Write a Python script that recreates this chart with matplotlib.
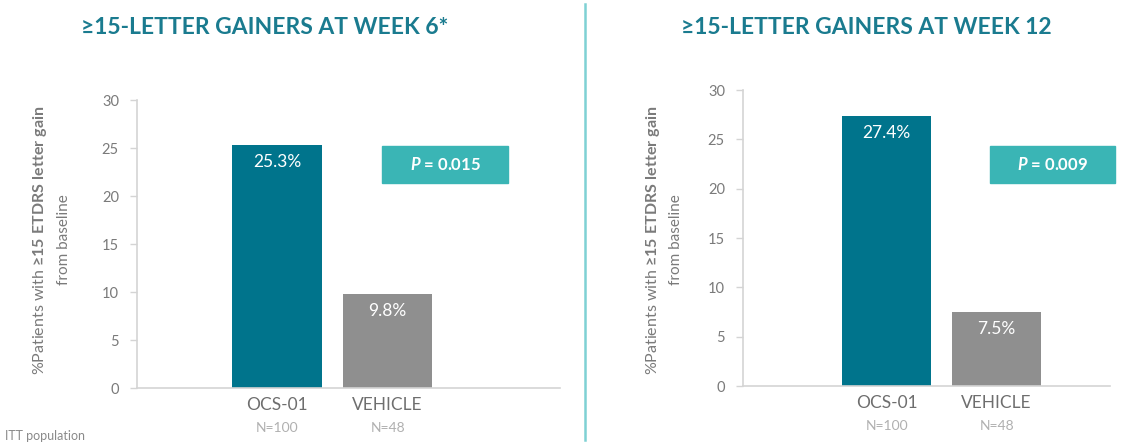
import matplotlib
matplotlib.use("Agg")
import matplotlib.pyplot as plt
from matplotlib.patches import Rectangle

plt.rcParams['font.family'] = ['Lato', 'DejaVu Sans']
plt.rcParams['mathtext.fontset'] = 'custom'
plt.rcParams['mathtext.rm'] = 'Lato'
plt.rcParams['mathtext.bf'] = 'Lato:bold'
plt.rcParams['mathtext.it'] = 'Lato:bold:italic'

# data
groups = ['OCS-01', 'VEHICLE']
group_n = ['N=100', 'N=48']
week6 = [25.3, 9.8]
week12 = [27.4, 7.5]
titles = ['≥15-LETTER GAINERS AT WEEK 6*', '≥15-LETTER GAINERS AT WEEK 12']
pvalues = ['0.015', '0.009']
yticks = [0, 5, 10, 15, 20, 25, 30]

teal = '#00748c'
grey = '#8f8f8f'
title_col = '#1a7b8f'
box_col = '#3ab5b5'
axis_col = '#d4d4d4'
tick_col = '#7a7a7a'

W, H = 1126, 444
fig = plt.figure(figsize=(W / 100, H / 100), dpi=100)

def px_rect(x0, y_bottom, x1, y_top):
    return [x0 / W, 1 - y_bottom / H, (x1 - x0) / W, (y_bottom - y_top) / H]

panels = [
    dict(vals=week6, ax=px_rect(137, 388, 560, 100), xlim=(-1.267, 2.56),
         title_x=265, lab_x=(40, 64), box=(382, 146, 508, 183)),
    dict(vals=week12, ax=px_rect(743, 386, 1110, 90), xlim=(-1.305, 2.03),
         title_x=866, lab_x=(653, 676), box=(990, 146, 1115, 183)),
]

for i, p in enumerate(panels):
    ax = fig.add_axes(p['ax'])
    x = [0, 1]
    ax.bar(x, p['vals'], width=0.81, color=[teal, grey])
    ax.set_xlim(*p['xlim'])
    ax.set_ylim(0, 30)
    ax.set_yticks(yticks)
    ax.set_xticks([])
    for s in ['top', 'right']:
        ax.spines[s].set_visible(False)
    for s in ['left', 'bottom']:
        ax.spines[s].set_color(axis_col)
        ax.spines[s].set_linewidth(1.2)
    ax.tick_params(axis='y', colors=axis_col, labelcolor=tick_col, labelsize=10.5,
                   length=5, width=1, pad=8)

    for xi, v in zip(x, p['vals']):
        ax.text(xi, v - 0.9, f'{v}%', ha='center', va='top', color='white', fontsize=12.5)

    for xi, g, n in zip(x, groups, group_n):
        ax.annotate(g, (xi, 0), xytext=(0, -17), textcoords='offset pixels',
                    ha='center', va='center', color='#6e6e6e', fontsize=12.5)
        ax.annotate(n, (xi, 0), xytext=(0, -40), textcoords='offset pixels',
                    ha='center', va='center', color='#b0b0b0', fontsize=10)

    fig.text(p['title_x'] / W, 1 - 28 / H, titles[i], ha='center', va='center',
             color=title_col, fontsize=16.5, fontweight='bold')

    yc = 1 - 240 / H
    fig.text(p['lab_x'][0] / W, yc,
             r'%Patients with $\mathbf{≥15\ ETDRS\ letter\ gain}$',
             rotation=90, ha='center', va='center', color=tick_col, fontsize=11.5)
    fig.text(p['lab_x'][1] / W, yc, 'from baseline', rotation=90,
             ha='center', va='center', color=tick_col, fontsize=11)

    bx0, by0, bx1, by1 = p['box']
    fig.patches.append(Rectangle((bx0 / W, 1 - by1 / H), (bx1 - bx0) / W, (by1 - by0) / H,
                                 transform=fig.transFigure, color=box_col, zorder=1))
    fig.text((bx0 + bx1) / 2 / W, 1 - (by0 + by1) / 2 / H,
             r'$\mathit{P}$ = ' + pvalues[i], ha='center', va='center',
             color='white', fontsize=12, fontweight='bold', zorder=2)

# divider
fig.add_artist(plt.Line2D([585 / W, 585 / W], [0.01, 0.99], transform=fig.transFigure,
                          color='#7fd1d4', lw=1.8))

fig.text(5 / W, 1 - 436 / H, 'ITT population', ha='left', va='center',
         color='#8a8a8a', fontsize=9)

fig.savefig('out.png', dpi=100)
